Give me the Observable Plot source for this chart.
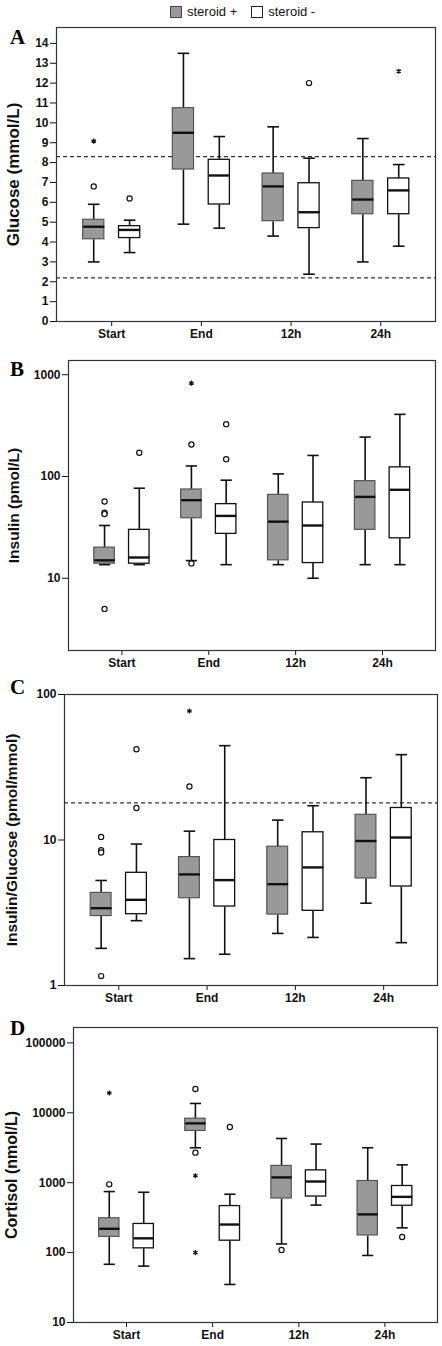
<!DOCTYPE html>
<html><head><meta charset="utf-8">
<script src="https://cdn.jsdelivr.net/npm/d3@7"></script>
<script src="https://cdn.jsdelivr.net/npm/@observablehq/plot@0.6"></script>
<style>
body{margin:0;background:#fff;font-family:"Liberation Sans",Arial,sans-serif;}
#root{position:relative;width:442px;height:1346px;overflow:hidden;}
.panel{position:absolute;left:0;}
.panel svg{overflow:visible;}
.panel svg [aria-label="y-axis label"] text{font-weight:bold;}
.letter{position:absolute;font-family:"Liberation Serif","Times New Roman",serif;font-weight:bold;font-size:21px;line-height:1;}
#legend{position:absolute;top:4px;left:170px;display:flex;align-items:center;font-size:13px;color:#111;}
#legend .sw{width:10px;height:10px;border:1px solid #444;display:inline-block;margin-right:5px;}
</style></head>
<body><div id="root">
<div id="legend"><span class="sw" style="background:#999"></span><span style="margin-right:14px">steroid +</span><span class="sw" style="background:#fff;border-color:#222"></span><span>steroid -</span></div>
</div>
<script>
const times = ["Start","End","12h","24h"];
const groups = ["steroid +","steroid -"];

// each row: [lower whisker, Q1, median, Q3, upper whisker] for Start, End, 12h, 24h
const glucosePlus  = [[3.0,4.14,4.77,5.12,5.9],[4.9,7.65,9.5,10.74,13.5],[4.3,5.05,6.8,7.45,9.8],[3.0,5.4,6.14,7.08,9.21]];
const glucoseMinus = [[3.47,4.2,4.61,4.8,5.1],[4.7,5.89,7.35,8.14,9.31],[2.38,4.7,5.5,6.96,8.22],[3.79,5.4,6.6,7.2,7.9]];
const glucoseOutliers = [["Start","steroid +",6.8],["Start","steroid -",6.19],["12h","steroid -",12.0]];
const glucoseExtremes = [["Start","steroid +",9.08],["24h","steroid -",12.6]];
const glucoseRefs = [8.3, 2.2];
const glucoseTicks = [0,1,2,3,4,5,6,7,8,9,10,11,12,13,14];

const insulinPlus  = [[13.6,13.9,15,20,33],[14.9,38.9,58.5,74.5,127],[13.6,15,36,66,106],[13.6,29.9,63,90,244]];
const insulinMinus = [[13.6,13.9,16,29.9,76.7],[13.6,27.3,41,53.5,92],[10,14.1,33,55.5,161],[13.6,24.7,74,123,408]];
const insulinOutliers = [["Start","steroid +",56.8],["Start","steroid +",44],["Start","steroid +",42.7],["Start","steroid +",5.0],["Start","steroid -",171],["End","steroid +",206],["End","steroid +",14],["End","steroid -",327],["End","steroid -",148]];
const insulinExtremes = [["End","steroid +",828]];
const insulinTicks = [10,100,1000];

const ratioPlus  = [[1.8,3.0,3.4,4.33,5.27],[1.53,3.98,5.8,7.63,11.5],[2.28,3.07,4.97,9.0,13.7],[3.68,5.44,9.84,14.9,26.8]];
const ratioMinus = [[2.79,3.09,3.88,5.95,9.38],[1.64,3.49,5.3,10.0,44.5],[2.14,3.26,6.48,11.3,17.2],[1.97,4.79,10.4,16.6,38.6]];
const ratioOutliers = [["Start","steroid +",10.5],["Start","steroid +",8.5],["Start","steroid +",8.2],["Start","steroid +",1.16],["Start","steroid -",42],["Start","steroid -",16.6],["End","steroid +",23.3]];
const ratioExtremes = [["End","steroid +",77]];
const ratioRefs = [18];
const ratioTicks = [1,10,100];

const cortisolPlus  = [[68,168,219,310,747],[3160,5500,7060,8230,13600],[133,594,1190,1740,4290],[91,176,352,1057,3160]];
const cortisolMinus = [[64,115,160,257,730],[35,148,252,463,684],[478,634,1040,1500,3570],[226,468,627,897,1800]];
const cortisolOutliers = [["Start","steroid +",947],["End","steroid +",21900],["End","steroid +",2690],["End","steroid -",6270],["12h","steroid +",109],["24h","steroid -",167]];
const cortisolExtremes = [["Start","steroid +",19200],["End","steroid +",1256],["End","steroid +",100]];
const cortisolTicks = [10,100,1000,10000,100000];

const OFF = {"steroid +": -0.2, "steroid -": 0.2};
const HALF = 0.118, CAP = 0.065;
const xpos = (t, g) => times.indexOf(t) + OFF[g];

function boxRows(plus, minus) {
  const rows = [];
  times.forEach((t, i) => {
    [[groups[0], plus[i]], [groups[1], minus[i]]].forEach(([g, v]) => {
      rows.push({time: t, group: g, x: xpos(t, g), lo: v[0], q1: v[1], med: v[2], q3: v[3], hi: v[4]});
    });
  });
  return rows;
}
const pts = arr => arr.map(([t, g, v]) => ({x: xpos(t, g), y: v}));

function panel({plus, minus, outliers, extremes, refs, yScale, label, labelSize, labelOffset, top, height, margin}) {
  const rows = boxRows(plus, minus);
  const ink = "#111";
  const chart = Plot.plot({
    width: 442, height,
    marginTop: margin[0], marginRight: margin[1], marginBottom: margin[2], marginLeft: margin[3],
    style: {fontFamily: '"Liberation Sans", Arial, sans-serif', fontSize: "12px", fontWeight: "bold", color: "#111", background: "transparent"},
    x: {domain: [-0.615, 3.61], ticks: [0,1,2,3], tickFormat: i => times[i], tickSize: 5, tickPadding: 3, label: null},
    y: {...yScale, tickSize: 6, tickPadding: 2, label, labelAnchor: "center", labelOffset, labelArrow: "none"},
    marks: [
      refs ? Plot.ruleY(refs, {stroke: "#333", strokeWidth: 1.3, strokeDasharray: "4,3"}) : null,
      Plot.link(rows, {x1: "x", x2: "x", y1: "lo", y2: "q1", stroke: ink, strokeWidth: 1.6}),
      Plot.link(rows, {x1: "x", x2: "x", y1: "q3", y2: "hi", stroke: ink, strokeWidth: 1.6}),
      Plot.link(rows, {x1: d => d.x - CAP, x2: d => d.x + CAP, y1: "hi", y2: "hi", stroke: ink, strokeWidth: 1.6}),
      Plot.link(rows, {x1: d => d.x - CAP, x2: d => d.x + CAP, y1: "lo", y2: "lo", stroke: ink, strokeWidth: 1.6}),
      Plot.rect(rows.filter(d => d.group === groups[0]), {x1: d => d.x - HALF, x2: d => d.x + HALF, y1: "q1", y2: "q3", fill: "#999", stroke: "#555", strokeWidth: 1.2}),
      Plot.rect(rows.filter(d => d.group === groups[1]), {x1: d => d.x - HALF, x2: d => d.x + HALF, y1: "q1", y2: "q3", fill: "#fff", stroke: ink, strokeWidth: 1.3}),
      Plot.link(rows, {x1: d => d.x - HALF, x2: d => d.x + HALF, y1: "med", y2: "med", stroke: ink, strokeWidth: 2.4}),
      Plot.dot(pts(outliers), {x: "x", y: "y", r: 2.6, stroke: ink, strokeWidth: 1.2, fill: "#fff"}),
      Plot.dot(pts(extremes), {x: "x", y: "y", r: 2.4, symbol: "asterisk", stroke: ink, strokeWidth: 1.3}),
      Plot.frame({stroke: "#333", strokeWidth: 1.2})
    ]
  });
  const lab = chart.querySelector('[aria-label="y-axis label"]');
  if (lab) lab.setAttribute("font-size", labelSize);
  lab && lab.querySelectorAll("text").forEach(t => t.style.fontSize = labelSize + "px");
  const div = document.createElement("div");
  div.className = "panel";
  div.style.top = top + "px";
  div.appendChild(chart);
  document.getElementById("root").appendChild(div);
}

function letter(ch, x, y) {
  const d = document.createElement("div");
  d.className = "letter"; d.textContent = ch;
  d.style.left = x + "px"; d.style.top = y + "px";
  document.getElementById("root").appendChild(d);
}

panel({plus: glucosePlus, minus: glucoseMinus, outliers: glucoseOutliers, extremes: glucoseExtremes, refs: glucoseRefs,
  yScale: {type: "linear", domain: [0, 14.8], ticks: glucoseTicks}, label: "Glucose (mmol/L)", labelSize: 17, labelOffset: 50,
  top: 20, height: 330, margin: [7, 7, 29, 56]});
panel({plus: insulinPlus, minus: insulinMinus, outliers: insulinOutliers, extremes: insulinExtremes, refs: null,
  yScale: {type: "log", domain: [1.95, 1380], ticks: insulinTicks, tickFormat: d => String(d)}, label: "Insulin (pmol/L)", labelSize: 15.5, labelOffset: 61,
  top: 350, height: 330, margin: [10, 7, 30, 68]});
panel({plus: ratioPlus, minus: ratioMinus, outliers: ratioOutliers, extremes: ratioExtremes, refs: ratioRefs,
  yScale: {type: "log", domain: [1, 100], ticks: ratioTicks, tickFormat: d => String(d)}, label: "Insulin/Glucose (pmol/mmol)", labelSize: 15.5, labelOffset: 59,
  top: 680, height: 335, margin: [14, 5, 30, 64]});
panel({plus: cortisolPlus, minus: cortisolMinus, outliers: cortisolOutliers, extremes: cortisolExtremes, refs: null,
  yScale: {type: "log", domain: [10, 166000], ticks: cortisolTicks, tickFormat: d => String(d)}, label: "Cortisol (nmol/L)", labelSize: 16, labelOffset: 68,
  top: 1015, height: 331, margin: [12, 5, 24, 73]});

letter("A", 10, 27);
letter("B", 10, 359);
letter("C", 10, 677);
letter("D", 10, 1018);
</script>
</body></html>
